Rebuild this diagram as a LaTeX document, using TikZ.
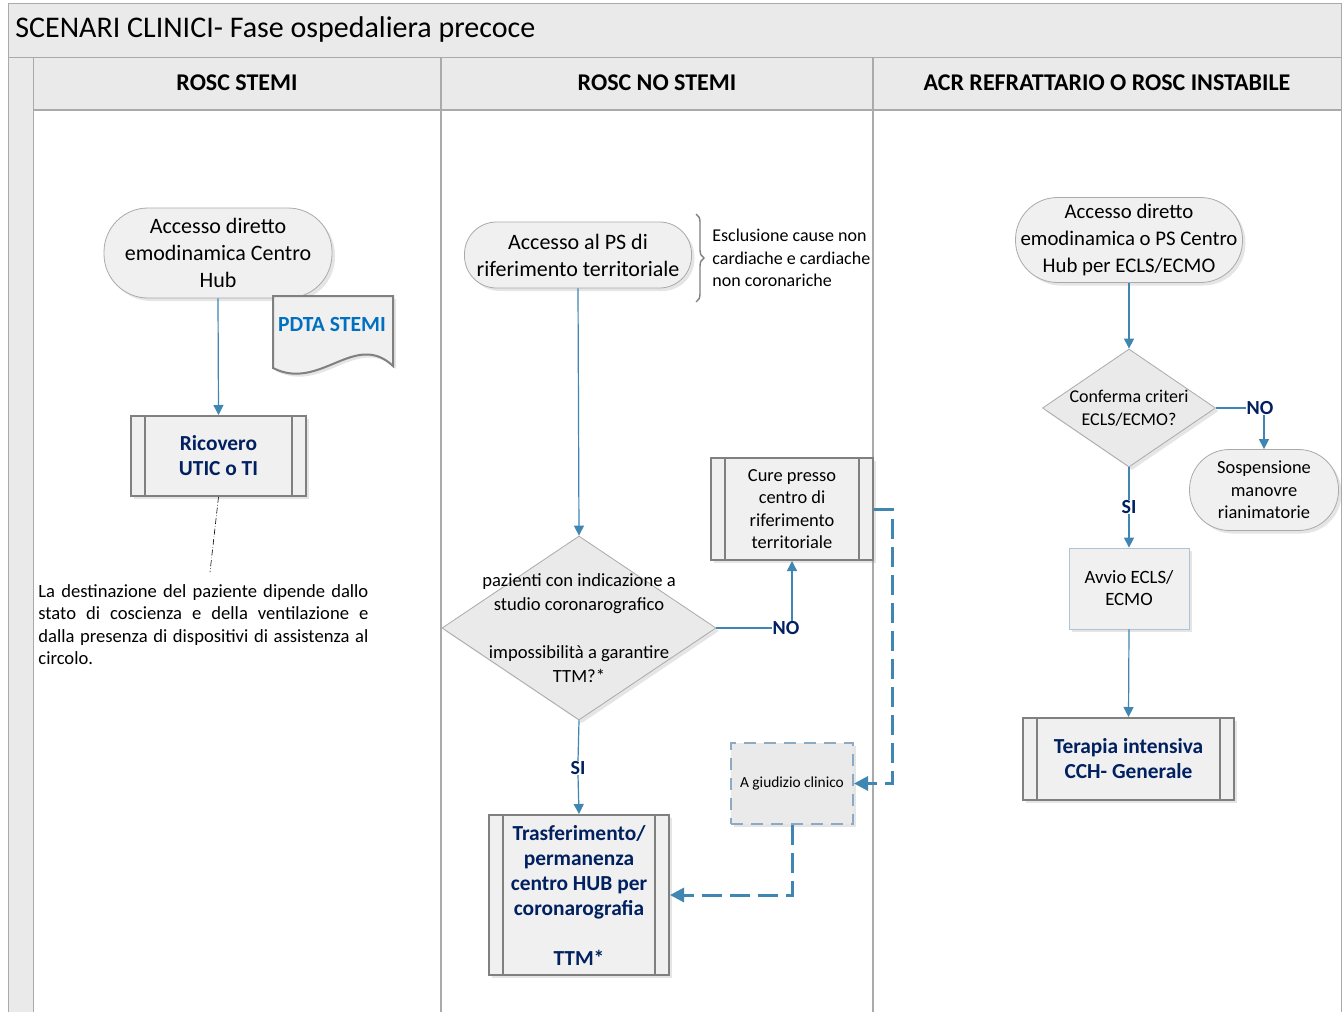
\documentclass[tikz,border=0pt]{standalone}
\usepackage{fontspec}
\setmainfont{Carlito}
\usetikzlibrary{shapes.geometric,arrows.meta,shadows,decorations.pathreplacing}

\definecolor{freccia}{RGB}{64,134,178}
\definecolor{bluscuro}{RGB}{0,32,96}
\definecolor{bluPDTA}{RGB}{0,112,192}
\definecolor{fondo}{RGB}{240,240,240}
\definecolor{fascia}{RGB}{234,234,234}
\definecolor{bordo}{RGB}{128,128,128}
\definecolor{bordochiaro}{RGB}{170,170,170}
\definecolor{tratteggio}{RGB}{140,170,195}

\begin{document}
\begin{tikzpicture}[x=0.5pt,y=-0.5pt,
  every node/.style={inner sep=0pt},
  ombra/.style={drop shadow={shadow xshift=1.5pt,shadow yshift=-1.5pt,opacity=0.2}},
  term/.style={rectangle, rounded corners=#1, draw=bordochiaro, fill=fondo,
    align=center, font=\fontsize{11}{13.5}\selectfont, ombra},
  term/.default=16pt,
  proc/.style={rectangle, draw=bordo, line width=1pt, fill=fondo, align=center, ombra},
  forte/.style={font=\fontsize{10.7}{12.5}\selectfont\bfseries, text=bluscuro},
  cond/.style={diamond, draw=bordochiaro, fill=fascia, ombra},
  lbl/.style={font=\fontsize{10}{11}\selectfont\bfseries, text=bluscuro, fill=white},
  intest/.style={font=\fontsize{12}{14}\selectfont\bfseries},
  conn/.style={draw=freccia, line width=0.6pt, -{Triangle[width=5pt,length=5pt]}},
  linea/.style={draw=freccia, line width=0.6pt},
  trat/.style={draw=freccia, line width=1.5pt, dash pattern=on 10pt off 4pt,
    -{Triangle[width=7pt,length=7pt]}}]

\useasboundingbox (0,0) rectangle (1344,1012);

% corsie
\fill[white] (0,0) rectangle (1344,1012);
\fill[fascia] (8,3) rectangle (1341,57);
\fill[fascia] (8,57) rectangle (33,1015);
\fill[fascia] (33,57) rectangle (1341,110);
\draw[bordochiaro] (8,1015) -- (8,3) -- (1341,3) -- (1341,1015);
\draw[bordochiaro] (8,57) -- (1341,57);
\draw[bordochiaro] (33,57) -- (33,1015);
\draw[bordochiaro, line width=1pt] (33,110) -- (1341,110);
\draw[bordochiaro, line width=0.8pt] (441,57) -- (441,1015) (873,57) -- (873,1015);

\node[anchor=west, font=\fontsize{15}{17}\selectfont] (titolo) at (15,30)
  {SCENARI CLINICI- Fase ospedaliera precoce};
\node[intest] (h1) at (237,83) {ROSC STEMI};
\node[intest] (h2) at (657,83) {ROSC NO STEMI};
\node[intest] (h3) at (1107,83) {ACR REFRATTARIO O ROSC INSTABILE};

% ROSC STEMI
\node[term=22pt, minimum width=114pt, minimum height=45pt] (acc1) at (218,253)
  {Accesso diretto\\emodinamica Centro\\Hub};
\draw[draw=bordo, line width=1pt, fill=fondo, ombra]
  (273,296) -- (393,296) -- (393,366) .. controls (355,330) and (320,392) .. (273,368) -- cycle;
\node[font=\fontsize{10.8}{12}\selectfont\bfseries, text=bluPDTA] (pdta) at (332,324) {PDTA STEMI};
\node[proc, forte, minimum width=87.5pt, minimum height=40pt] (ricovero) at (218.5,456)
  {Ricovero\\UTIC o TI};
\coordinate (nota) at (210,572);
\node[anchor=north west, text width=165pt, align=justify,
  font=\fontsize{9.3}{11.2}\selectfont] (testo) at (38,584)
  {La destinazione del paziente dipende dallo\linebreak
   stato di coscienza e della ventilazione e\linebreak
   dalla presenza di dispositivi di assistenza al\linebreak
   circolo.};

% ROSC NO STEMI
\node[term, minimum width=113.5pt, minimum height=33pt] (acc2) at (578,255)
  {Accesso al PS di\\riferimento territoriale};
\node[anchor=west, align=left, font=\fontsize{9}{11.25}\selectfont] (escl) at (712,258)
  {Esclusione cause non\\cardiache e cardiache\\non coronariche};
\node[cond, minimum width=137pt, minimum height=92pt,
  label={[font=\fontsize{9.3}{12}\selectfont, align=center]center:{pazienti con indicazione a\\
    studio coronarografico\\[12pt]impossibilità a garantire\\TTM?*}}] (d1) at (579,628) {};
\node[proc, minimum width=81pt, minimum height=51pt, font=\fontsize{9.2}{11.2}\selectfont] (cure)
  at (792,509) {Cure presso\\centro di\\riferimento\\territoriale};
\node[lbl] (no1) at (786,628) {NO};
\node[lbl] (si1) at (578,768) {SI};
\node[draw=tratteggio, line width=1pt, dash pattern=on 6pt off 4pt, fill=fascia,
  minimum width=61pt, minimum height=40.5pt, font=\fontsize{7.7}{9}\selectfont, ombra]
  (giudizio) at (792,783.5) {A giudizio clinico};
\node[proc, forte, minimum width=90pt, minimum height=80pt] (trasf) at (579,895)
  {Trasferimento/\\permanenza\\centro HUB per\\coronarografia\\[12.5pt]TTM*};

% ACR REFRATTARIO O ROSC INSTABILE
\node[term=21pt, minimum width=113.5pt, minimum height=42.5pt, font=\fontsize{10.4}{13.5}\selectfont]
  (acc3) at (1129,240) {Accesso diretto\\emodinamica o PS Centro\\Hub per ECLS/ECMO};
\node[cond, minimum width=86.5pt, minimum height=59pt,
  label={[font=\fontsize{9}{11.5}\selectfont, align=center]center:{Conferma criteri\\ECLS/ECMO?}}]
  (d2) at (1129,408) {};
\node[lbl] (no2) at (1260,408) {NO};
\node[term=20pt, minimum width=74.5pt, minimum height=40.5pt, font=\fontsize{9.2}{11.25}\selectfont]
  (sosp) at (1264,490) {Sospensione\\manovre\\rianimatorie};
\node[lbl] (si2) at (1129,507) {SI};
\node[rectangle, draw=tratteggio!70, fill=fondo, minimum width=60pt, minimum height=40.5pt,
  align=center, font=\fontsize{9.4}{11}\selectfont, ombra] (avvio) at (1129,588.5)
  {Avvio ECLS/\\ECMO};
\node[proc, forte, minimum width=105.5pt, minimum height=41pt] (terapia) at (1128.5,759)
  {Terapia intensiva\\CCH- Generale};

\foreach \n in {ricovero,cure,trasf,terapia}
  \draw[bordo, line width=1pt] ([xshift=7.5pt]\n.north west) -- ([xshift=7.5pt]\n.south west)
    ([xshift=-7.5pt]\n.north east) -- ([xshift=-7.5pt]\n.south east);

% collegamenti
\draw[conn] (acc1.south) -- (ricovero.north);
\draw[black, line width=0.3pt, densely dash dot] (ricovero.south) -- (nota);
\draw[gray, line width=0.7pt, decorate, decoration={brace, amplitude=4pt}]
  ([xshift=-8pt,yshift=22pt]escl.west) -- ([xshift=-8pt,yshift=-22pt]escl.west);
\draw[conn] (acc2.south) -- (d1.north);
\draw[linea] (d1.east) -- (no1.west);
\draw[conn] (no1.north -| cure.south) -- (cure.south);
\draw[linea] (d1.south) -- (si1.north);
\draw[conn] (si1.south) -- (trasf.north);
\draw[trat] (cure.east) -- ++(18,0) |- (giudizio.east);
\draw[trat] (giudizio.south) |- (trasf.east);
\draw[conn] (acc3.south) -- (d2.north);
\draw[linea] (d2.east) -- (no2.west);
\draw[conn] (no2.south -| sosp.north) -- (sosp.north);
\draw[linea] (d2.south) -- (si2.north);
\draw[conn] (si2.south) -- (avvio.north);
\draw[conn] (avvio.south) -- (terapia.north);
\end{tikzpicture}
\end{document}
